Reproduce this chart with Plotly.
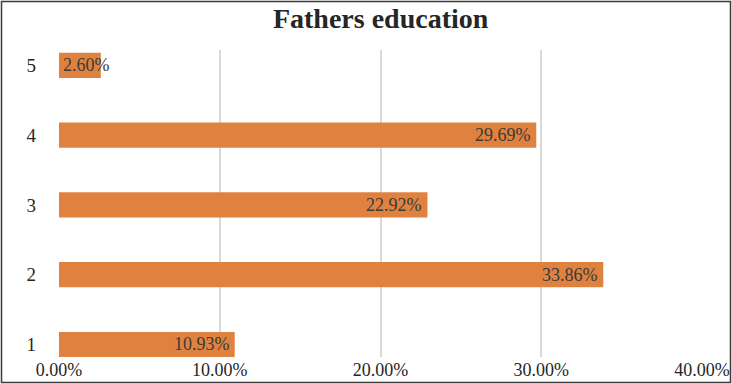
import plotly.graph_objects as go

categories = ["1", "2", "3", "4", "5"]
values = [10.93, 33.86, 22.92, 29.69, 2.60]
labels = ["10.93%", "33.86%", "22.92%", "29.69%", "2.60%"]
xticks = [0, 10, 20, 30, 40]
xticklabels = ["0.00%", "10.00%", "20.00%", "30.00%", "40.00%"]

FONT = "Liberation Serif, Times New Roman, serif"

fig = go.Figure(go.Bar(
    y=categories, x=values, orientation="h",
    marker=dict(color="#E0823F", line=dict(width=0)),
    width=0.36,
    hoverinfo="x+y",
))

# data labels: inside end, or starting at the bar base when the bar is too short
annotations = []
for idx, (val, lab) in enumerate(zip(values, labels)):
    short = val < 5
    annotations.append(dict(
        x=0 if short else val, y=idx, xref="x", yref="y",
        text=lab, showarrow=False,
        xanchor="left" if short else "right",
        xshift=2 if short else -3, yshift=0,
        font=dict(family=FONT, size=18, color="#3A3A3A"),
    ))

fig.update_layout(
    width=732, height=384,
    margin=dict(l=59, r=30, t=50, b=27, autoexpand=False),
    paper_bgcolor="white", plot_bgcolor="white",
    title=dict(text="<b>Fathers education</b>", x=0.52, xanchor="center",
               y=1 - 18 / 384, yanchor="middle",
               font=dict(family=FONT, size=28, color="#262626")),
    showlegend=False,
    annotations=annotations,
    xaxis=dict(range=[0, 40], tickvals=xticks, ticktext=xticklabels,
               showgrid=True, gridcolor="#D9D9D9", gridwidth=2,
               zeroline=False, showline=False, ticks="", automargin=False,
               tickfont=dict(family=FONT, size=18, color="#262626")),
    yaxis=dict(type="category", categoryorder="array", categoryarray=categories,
               range=[-0.18, 4.22], showgrid=False, zeroline=False,
               showline=False, ticks="", ticklabelstandoff=22, automargin=False,
               tickfont=dict(family=FONT, size=19, color="#262626")),
    shapes=[
        dict(type="rect", xref="paper", yref="paper",
             x0=(1.5 - 59) / 643, x1=(730.5 - 59) / 643,
             y0=(357 - 382.5) / 307, y1=(357 - 1.5) / 307,
             line=dict(color="#3A3A3A", width=1.5), layer="below"),
    ],
)

fig.write_html("out.html", config={"displayModeBar": False},
               post_script="document.body.style.margin='0';document.body.style.overflow='hidden';")
